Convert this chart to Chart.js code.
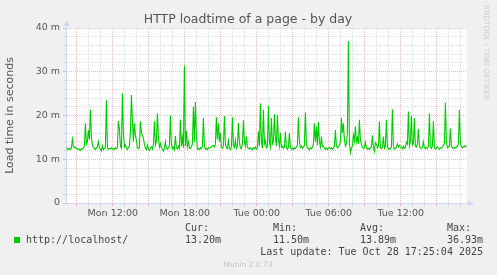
<!DOCTYPE html>
<html>
<head>
<meta charset="utf-8">
<title>HTTP loadtime of a page - by day</title>
<script src="https://cdn.jsdelivr.net/npm/chart.js@4.4.0/dist/chart.umd.min.js"></script>
<style>
    html, body { margin: 0; padding: 0; background: #f0f0f0; }
    #graph { display: block; }
</style>
</head>
<body>
<canvas id="graph" width="497" height="275"></canvas>
<script>
// Munin samples: one every 5 minutes, x in minutes since Mon 00:00
const sampleStart = 488;
const sampleStep = 5;

// load time in ms
const loadtime = [
    12.6, 12.4, 12.2, 12.5, 12.3, 12.6, 14.6, 13.0, 12.6, 12.8,
    12.4, 12.5, 12.2, 12.3, 12.0, 12.4, 12.3, 12.6, 13.0, 18.2,
    13.5, 14.0, 16.7, 14.5, 21.3, 15.0, 13.2, 12.8, 12.5, 12.2,
    12.6, 12.8, 14.0, 12.6, 12.3, 11.9, 13.1, 12.2, 12.5, 12.8,
    23.5, 12.6, 12.3, 12.5, 12.4, 12.6, 12.3, 12.5, 12.2, 12.6,
    12.4, 12.8, 18.7, 17.0, 13.0, 12.5, 25.1, 16.0, 12.8, 13.3,
    12.6, 12.2, 12.7, 13.0, 16.0, 24.7, 19.0, 14.0, 18.2, 15.5,
    14.3, 12.6, 12.4, 12.8, 18.7, 16.0, 15.5, 14.8, 13.5, 12.5,
    12.2, 13.2, 12.4, 12.0, 12.6, 12.8, 12.3, 13.5, 18.7, 13.2,
    14.0, 20.5, 15.0, 12.8, 13.6, 12.6, 12.3, 11.9, 12.4, 14.0,
    12.5, 12.3, 12.6, 13.0, 20.0, 13.5, 12.4, 12.8, 12.2, 15.3,
    12.6, 12.4, 13.0, 12.5, 19.1, 13.0, 15.0, 12.6, 31.4, 13.0,
    16.5, 12.8, 14.0, 12.6, 12.4, 12.8, 13.5, 22.0, 14.0, 23.1,
    15.5, 12.3, 12.5, 12.2, 12.6, 12.4, 13.0, 19.4, 13.0, 12.3,
    12.5, 12.2, 12.6, 12.5, 12.7, 12.9, 13.0, 13.2, 12.8, 13.4,
    19.6, 14.5, 18.2, 14.0, 16.0, 12.8, 12.5, 13.0, 19.9, 13.5,
    12.6, 12.4, 14.3, 12.5, 12.2, 12.8, 19.6, 13.2, 12.7, 14.3,
    12.5, 13.0, 18.3, 14.0, 12.6, 12.4, 13.5, 18.9, 14.0, 13.0,
    15.2, 12.8, 12.5, 12.3, 12.6, 12.4, 12.2, 12.6, 12.4, 12.8,
    12.3, 12.5, 16.4, 13.0, 22.8, 14.0, 12.5, 21.3, 13.5, 14.3,
    12.6, 13.0, 22.2, 14.0, 12.8, 19.4, 13.5, 14.0, 20.3, 15.0,
    13.0, 20.1, 14.5, 13.0, 16.0, 12.8, 13.0, 12.5, 12.8, 16.3,
    12.6, 12.3, 12.7, 16.0, 12.8, 12.3, 12.5, 12.2, 12.6, 12.4,
    12.8, 13.2, 19.6, 14.0, 12.7, 13.0, 12.5, 12.8, 13.2, 20.7,
    13.5, 12.6, 12.4, 12.2, 12.6, 12.4, 12.8, 13.5, 18.2, 14.0,
    17.4, 13.2, 18.5, 14.0, 12.8, 15.2, 12.9, 13.0, 12.5, 12.3,
    12.6, 12.2, 12.5, 12.7, 12.4, 12.6, 12.3, 12.5, 13.0, 16.7,
    13.0, 12.6, 12.8, 13.2, 14.0, 19.4, 16.0, 18.2, 14.5, 13.0,
    13.5, 16.0, 37.0, 14.0, 11.5, 12.5, 13.0, 15.5, 14.2, 17.5,
    14.0, 15.0, 13.5, 19.0, 14.5, 13.5, 12.8, 12.5, 12.6, 13.9,
    12.6, 12.3, 12.5, 12.2, 12.6, 12.8, 15.5, 12.8, 11.8, 13.8,
    13.5, 12.6, 13.0, 18.6, 12.6, 12.4, 12.8, 15.2, 12.5, 13.0,
    19.0, 13.0, 12.3, 12.5, 12.4, 12.8, 21.4, 13.0, 12.3, 12.5,
    12.8, 13.5, 12.8, 13.2, 12.9, 12.6, 12.4, 13.0, 12.5, 12.8,
    13.9, 13.5, 20.9, 13.0, 14.0, 19.9, 13.2, 13.5, 19.4, 13.0,
    12.8, 13.5, 16.9, 13.0, 12.6, 12.4, 12.8, 14.0, 12.6, 12.4,
    12.7, 12.5, 13.0, 20.5, 12.8, 12.5, 13.0, 18.7, 12.6, 12.3,
    12.5, 12.8, 12.5, 12.3, 12.6, 12.5, 12.8, 13.2, 13.5, 22.9,
    14.0, 12.6, 12.8, 13.0, 17.1, 13.0, 12.6, 12.4, 12.7, 12.5,
    12.8, 13.0, 13.5, 21.3, 13.5, 12.8, 12.6, 12.9, 13.0, 12.8,
    13.2
];

const xTickMinutes = [720, 1080, 1440, 1800, 2160];
const xTickLabels = ['Mon 12:00', 'Mon 18:00', 'Tue 00:00', 'Tue 06:00', 'Tue 12:00'];
const yTickValues = [0, 10, 20, 30, 40];
const yTickLabels = ['0', '10 m', '20 m', '30 m', '40 m'];

const seriesName = 'http://localhost/';
const statNames = ['Cur:', 'Min:', 'Avg:', 'Max:'];
const statValues = ['13.20m', '11.50m', '13.89m', '36.93m'];
const lastUpdate = 'Last update: Tue Oct 28 17:25:04 2025';

const GREEN = '#00cc00';
const AXIS = '#cfd6f8';
const GRID = 'rgba(150, 150, 150, 0.32)';
const MGRID = 'rgba(230, 80, 80, 0.4)';
const FONT = '#555555';

Chart.defaults.font.family = '"DejaVu Sans", sans-serif';

// фон, заголовок, стрелки осей, легенда внизу
const muninDecor = {
    id: 'muninDecor',
    beforeDraw(chart) {
        const { ctx, chartArea: a } = chart;
        ctx.save();
        ctx.fillStyle = '#f0f0f0';
        ctx.fillRect(0, 0, chart.width, chart.height);
        ctx.fillStyle = '#ffffff';
        ctx.fillRect(a.left, a.top, a.right - a.left, a.bottom - a.top);
        ctx.restore();
    },
    afterDraw(chart) {
        const { ctx, chartArea: a } = chart;
        ctx.save();

        // title
        ctx.fillStyle = FONT;
        ctx.font = '12.5px "DejaVu Sans"';
        ctx.textAlign = 'center';
        ctx.textBaseline = 'alphabetic';
        ctx.fillText('HTTP loadtime of a page - by day', 248, 23);

        // axis extensions + arrows
        const ax = a.left + 0.5, ay = a.bottom + 0.5;
        ctx.strokeStyle = AXIS;
        ctx.fillStyle = AXIS;
        ctx.lineWidth = 1;
        ctx.beginPath();
        ctx.moveTo(ax, a.top); ctx.lineTo(ax, a.top - 4);
        ctx.moveTo(a.right, ay); ctx.lineTo(a.right + 3, ay);
        ctx.stroke();
        ctx.beginPath();
        ctx.moveTo(ax, a.top - 8); ctx.lineTo(ax - 3, a.top - 2); ctx.lineTo(ax + 3, a.top - 2);
        ctx.closePath(); ctx.fill();
        ctx.beginPath();
        ctx.moveTo(a.right + 7, ay); ctx.lineTo(a.right + 1, ay - 3); ctx.lineTo(a.right + 1, ay + 3);
        ctx.closePath(); ctx.fill();

        // legend
        ctx.font = '10px "DejaVu Sans Mono"';
        ctx.textAlign = 'left';
        ctx.fillStyle = GREEN;
        ctx.fillRect(14, 237, 6, 6);
        ctx.fillStyle = '#444444';
        ctx.fillText(seriesName, 26, 243);
        const statX = [185, 273, 360, 447];
        statNames.forEach((name, i) => {
            ctx.fillText(name, statX[i], 231);
            ctx.fillText(statValues[i], statX[i], 243);
        });
        ctx.textAlign = 'right';
        ctx.fillText(lastUpdate, 483, 255);

        // version line
        ctx.font = '7.5px "DejaVu Sans"';
        ctx.textAlign = 'center';
        ctx.fillStyle = '#c4c4c4';
        ctx.fillText('Munin 2.0.73', 248, 267);

        // watermark on the right side
        ctx.translate(486, 5);
        ctx.rotate(Math.PI / 2);
        ctx.font = '7.4px "DejaVu Sans"';
        ctx.textAlign = 'left';
        ctx.textBaseline = 'middle';
        ctx.fillStyle = '#cccccc';
        ctx.fillText('RRDTOOL / TOBI OETIKER', 0, 0);

        ctx.restore();
    }
};

const points = loadtime.map((v, i) => ({ x: sampleStart + i * sampleStep, y: v }));

new Chart(document.getElementById('graph').getContext('2d'), {
    type: 'line',
    data: {
        datasets: [{
            label: seriesName,
            data: points,
            borderColor: GREEN,
            borderWidth: 1.1,
            pointRadius: 0,
            tension: 0,
            fill: false
        }]
    },
    options: {
        responsive: false,
        animation: false,
        layout: { padding: { top: 28, right: 30, bottom: 52, left: 0 } },
        plugins: {
            legend: { display: false },
            tooltip: { enabled: false },
            title: { display: false }
        },
        scales: {
            x: {
                type: 'linear',
                min: 486,
                max: 2491,
                afterFit(scale) { scale.height = 20; },
                afterBuildTicks(scale) {
                    const ticks = [];
                    for (let m = 540; m <= 2460; m += 60) ticks.push({ value: m });
                    scale.ticks = ticks;
                },
                ticks: {
                    autoSkip: false,
                    maxRotation: 0,
                    padding: 2,
                    color: FONT,
                    font: { size: 9.5 },
                    callback: (v) => {
                        const k = xTickMinutes.indexOf(v);
                        return k >= 0 ? xTickLabels[k] : '';
                    }
                },
                grid: {
                    color: (c) => (c.tick && c.tick.value % 180 === 0 ? MGRID : GRID),
                    tickColor: (c) => (c.tick && c.tick.value % 180 === 0 ? MGRID : GRID),
                    tickLength: 3,
                    lineWidth: 1
                },
                border: { color: AXIS, width: 1, dash: [1, 1] }
            },
            y: {
                type: 'linear',
                min: 0,
                max: 40,
                afterFit(scale) { scale.width = 66; },
                afterBuildTicks(scale) {
                    const ticks = [];
                    for (let v = 0; v <= 40; v += 2) ticks.push({ value: v });
                    scale.ticks = ticks;
                },
                ticks: {
                    autoSkip: false,
                    padding: 3,
                    color: FONT,
                    font: { size: 9.5 },
                    callback: (v) => {
                        const k = yTickValues.indexOf(v);
                        return k >= 0 ? yTickLabels[k] : '';
                    }
                },
                title: {
                    display: true,
                    text: 'Load time in seconds',
                    color: FONT,
                    font: { size: 11 },
                    padding: { top: 4, bottom: 4 }
                },
                grid: {
                    color: (c) => (c.tick && c.tick.value % 10 === 0 ? MGRID : GRID),
                    tickColor: (c) => (c.tick && c.tick.value % 10 === 0 ? MGRID : GRID),
                    tickLength: 3,
                    lineWidth: 1
                },
                border: { color: AXIS, width: 1, dash: [1, 1] }
            }
        }
    },
    plugins: [muninDecor]
});
</script>
</body>
</html>
